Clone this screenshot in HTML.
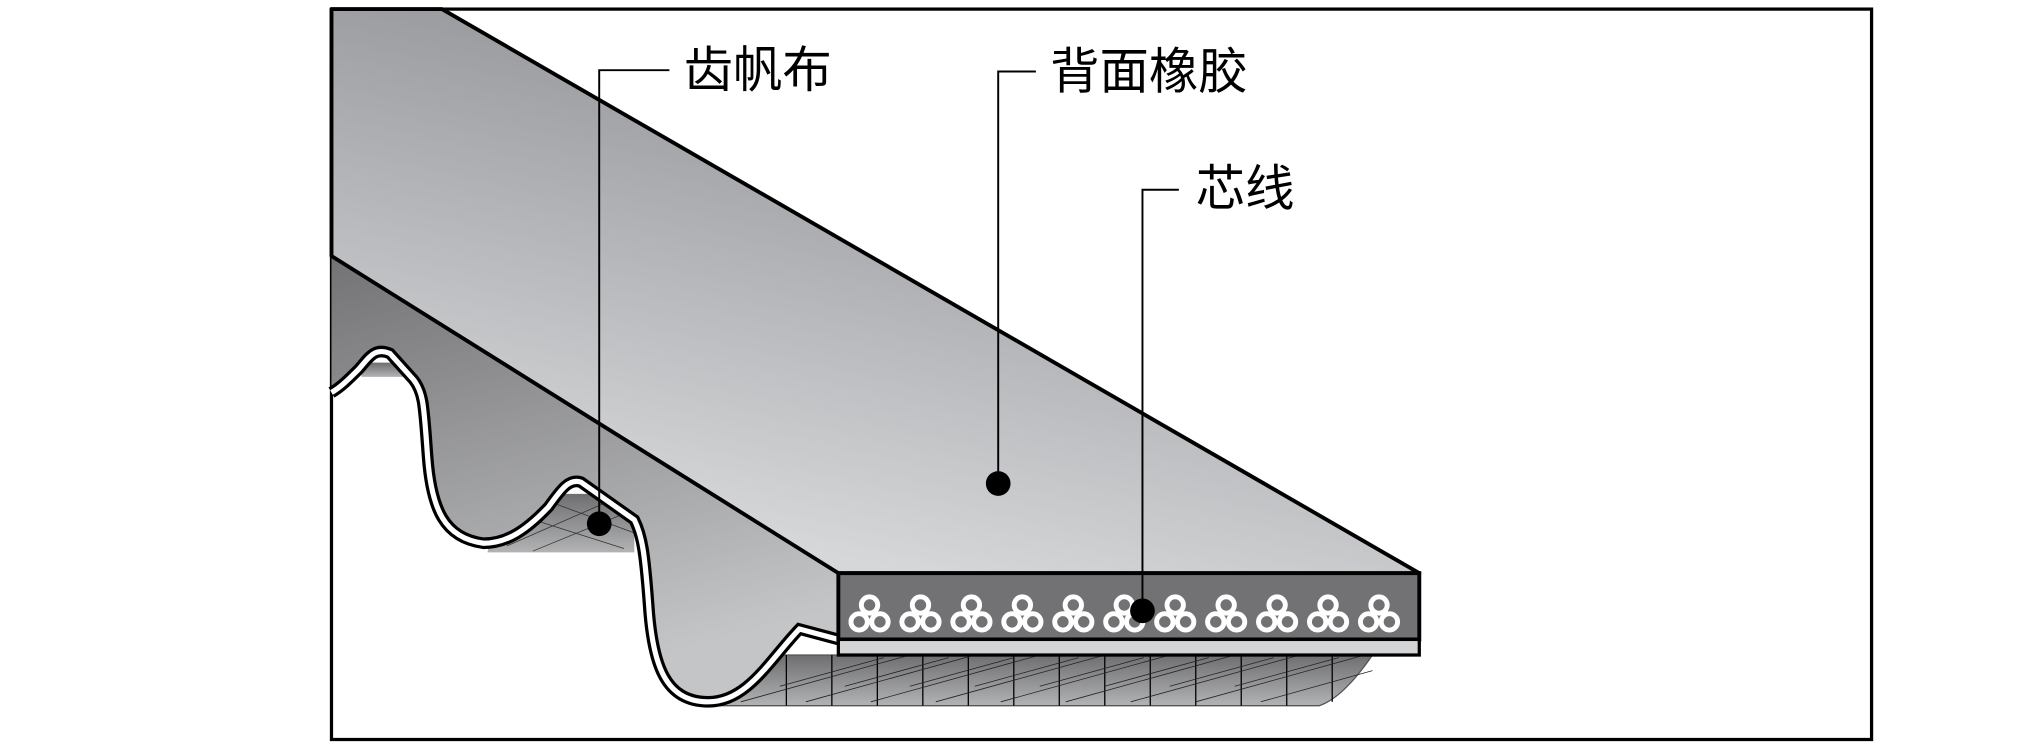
<!DOCTYPE html>
<html><head><meta charset="utf-8"><style>html,body{margin:0;padding:0;background:#fff;}svg{display:block}</style></head>
<body>
<svg width="2038" height="746" viewBox="0 0 1568 574" xmlns="http://www.w3.org/2000/svg">
<defs>
<linearGradient id="gt" x1="0.3" y1="0.9" x2="0.6" y2="0.2">
<stop offset="0" stop-color="#d6d7d9"/><stop offset="1" stop-color="#9a9b9f"/></linearGradient>
<linearGradient id="gs" x1="0" y1="0" x2="0.3" y2="1">
<stop offset="0" stop-color="#737376"/><stop offset="1" stop-color="#c4c5c7"/></linearGradient>
<linearGradient id="gb" x1="0" y1="0" x2="0" y2="1">
<stop offset="0" stop-color="#6e6e71"/><stop offset="1" stop-color="#b2b3b5"/></linearGradient>
</defs>
<rect x="255" y="7" width="1185" height="562" fill="#fff" stroke="#000" stroke-width="2.5"/>
<path d="M278,279 L318,279 L318,290 L278,290 Z" fill="url(#gb)"/>
<path d="M385,380 L488,380 L488,425 L375,425 Z" fill="url(#gb)"/>
<g stroke="#333" stroke-width="0.6">
<line x1="390" y1="420" x2="470" y2="385"/><line x1="410" y1="424" x2="488" y2="392"/><line x1="395" y1="395" x2="480" y2="422"/><line x1="420" y1="385" x2="488" y2="410"/>
</g>
<path d="M545,504 L1056,504 C1045,520 1030,538 1015,543 L545,543 Z" fill="url(#gb)" stroke="#555" stroke-width="1"/>
<g stroke="#000" stroke-width="1">
<line x1="605" y1="504" x2="605" y2="543"/><line x1="640" y1="504" x2="640" y2="543"/><line x1="675" y1="504" x2="675" y2="543"/><line x1="710" y1="504" x2="710" y2="543"/><line x1="745" y1="504" x2="745" y2="543"/><line x1="780" y1="504" x2="780" y2="543"/><line x1="815" y1="504" x2="815" y2="543"/><line x1="850" y1="504" x2="850" y2="543"/><line x1="885" y1="504" x2="885" y2="543"/><line x1="920" y1="504" x2="920" y2="543"/><line x1="955" y1="504" x2="955" y2="543"/><line x1="990" y1="504" x2="990" y2="543"/><line x1="1025" y1="504" x2="1025" y2="540"/>
</g>
<g stroke="#222" stroke-width="0.6">
<line x1="570" y1="540" x2="700" y2="504"/><line x1="620" y1="540" x2="750" y2="504"/><line x1="670" y1="540" x2="800" y2="504"/><line x1="720" y1="540" x2="850" y2="504"/><line x1="770" y1="540" x2="900" y2="504"/><line x1="820" y1="540" x2="950" y2="504"/><line x1="870" y1="540" x2="1000" y2="504"/><line x1="920" y1="540" x2="1050" y2="504"/><line x1="970" y1="540" x2="1056" y2="516"/>
<line x1="600" y1="528" x2="680" y2="506"/><line x1="650" y1="528" x2="730" y2="506"/><line x1="700" y1="528" x2="780" y2="506"/><line x1="750" y1="528" x2="830" y2="506"/><line x1="800" y1="528" x2="880" y2="506"/><line x1="850" y1="528" x2="930" y2="506"/><line x1="900" y1="528" x2="980" y2="506"/><line x1="950" y1="528" x2="1030" y2="506"/>
</g>
<path d="M255,197 L645,441 L645,492 L615,484 C592,508 575,540 545,540 C512,540 502,512 499,465 C496,425 494,412 488,400 L447,371 C438,368 432,376 422,390 C405,408 390,418 372,418 C342,414 332,392 329,352 C326,312 326,302 318,292 L300,272 C288,267 284,275 276,284 C268,292 262,298 255,302 Z" fill="url(#gs)"/>
<path d="M645,492 L615,484 C592,508 575,540 545,540 C512,540 502,512 499,465 C496,425 494,412 488,400 L447,371 C438,368 432,376 422,390 C405,408 390,418 372,418 C342,414 332,392 329,352 C326,312 326,302 318,292 L300,272 C288,267 284,275 276,284 C268,292 262,298 255,302" fill="none" stroke="#000" stroke-width="9"/>
<path d="M645,492 L615,484 C592,508 575,540 545,540 C512,540 502,512 499,465 C496,425 494,412 488,400 L447,371 C438,368 432,376 422,390 C405,408 390,418 372,418 C342,414 332,392 329,352 C326,312 326,302 318,292 L300,272 C288,267 284,275 276,284 C268,292 262,298 255,302" fill="none" stroke="#fff" stroke-width="4"/>
<path d="M255,7 L340,7 L1092,441 L645,441 L255,197 Z" fill="url(#gt)" stroke="#000" stroke-width="3" stroke-linejoin="round"/>
<rect x="645" y="441" width="447" height="51" fill="#727274" stroke="#000" stroke-width="3"/>
<rect x="645" y="492" width="447" height="12" fill="#d4d5d7" stroke="#000" stroke-width="2.5"/>
<g fill="none" stroke="#fff" stroke-width="3.8">
<g id="c"><circle cx="669" cy="465.5" r="6.3"/><circle cx="661" cy="478.5" r="6.3"/><circle cx="677" cy="478.5" r="6.3"/></g>
<use href="#c" x="39.2"/><use href="#c" x="78.4"/><use href="#c" x="117.6"/><use href="#c" x="156.8"/><use href="#c" x="196"/><use href="#c" x="235.2"/><use href="#c" x="274.4"/><use href="#c" x="313.6"/><use href="#c" x="352.8"/><use href="#c" x="392"/>
</g>
<g stroke="#000" stroke-width="1.5" fill="none">
<polyline points="515,54 461,54 461,403"/>
<polyline points="797,55 768,55 768,372"/>
<polyline points="907,146 879,146 879,470"/>
</g>
<g fill="#000"><circle cx="461" cy="403" r="9.5"/><circle cx="768" cy="372" r="9.5"/><circle cx="879" cy="470" r="9.5"/></g>
<g font-family="'Liberation Sans','Noto Sans CJK SC',sans-serif" font-size="38" fill="#000">
<text x="526" y="67">齿帆布</text>
<text x="808" y="68">背面橡胶</text>
<text x="920" y="158">芯线</text>
</g>
</svg>
</body></html>
